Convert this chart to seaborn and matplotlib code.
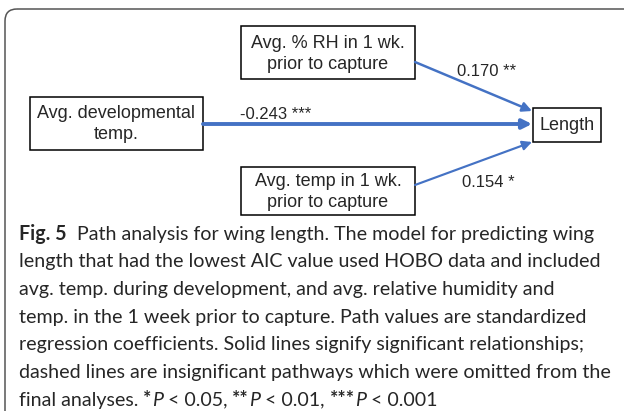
import numpy as np
import pandas as pd
import seaborn as sns
import matplotlib.pyplot as plt
from matplotlib.patches import FancyBboxPatch, FancyArrowPatch

# path model: predictors -> wing length, standardized coefficients
predictors = ["Avg. % RH in 1 wk.\nprior to capture",
              "Avg. developmental\ntemp.",
              "Avg. temp in 1 wk.\nprior to capture"]
outcome = "Length"
coefs = [0.170, -0.243, 0.154]
stars = ["**", "***", "*"]

caption = ["Path analysis for wing length. The model for predicting wing",
           "length that had the lowest AIC value used HOBO data and included",
           "avg. temp. during development, and avg. relative humidity and",
           "temp. in the 1 week prior to capture. Path values are standardized",
           "regression coefficients. Solid lines signify significant relationships;",
           "dashed lines are insignificant pathways which were omitted from the"]
pvals = ["0.05", "0.01", "0.001"]

sns.set_theme(style="white")
plt.rcParams['font.family'] = ['Liberation Sans', 'DejaVu Sans']

df = pd.DataFrame({"node": predictors, "coef": coefs, "stars": stars})
# box centres (pixel layout)
df["x"] = [328, 116, 328]
df["y"] = [53, 123, 191]
df["lab_x"] = [457, 240, 462]
df["lab_y"] = [72, 114, 182]
df["x0"] = [415, 203, 415]
df["y0"] = [62, 124, 185]
df["x1"] = [532, 532, 532]
df["y1"] = [111, 124, 142]

fig = plt.figure(figsize=(6.24, 4.11), dpi=100)
ax = fig.add_axes([0, 0, 1, 1])
ax.set_xlim(0, 624)
ax.set_ylim(411, 0)
ax.axis("off")

# outer frame
frame = FancyBboxPatch((5, 9), 640, 430, boxstyle="round,pad=0,rounding_size=12",
                       fc="none", ec="#555555", lw=1.1)
ax.add_patch(frame)

blue = "#4472C4"
box_w = {0: 174, 1: 173, 2: 174}
box_h = {0: 53, 1: 53, 2: 48}
for i, r in df.iterrows():
    ax.add_patch(plt.Rectangle((r.x - box_w[i] / 2, r.y - box_h[i] / 2), box_w[i], box_h[i],
                               fc="white", ec="black", lw=1.1))
    ax.text(r.x, r.y + 1, r.node, ha="center", va="center", fontsize=13, linespacing=1.3)
    lw = abs(r.coef) * 14 - 0.6
    ax.add_patch(FancyArrowPatch((r.x0, r.y0), (r.x1, r.y1), arrowstyle="-|>",
                                 mutation_scale=14, lw=lw, color=blue, shrinkA=0, shrinkB=0))
    ax.text(r.lab_x, r.lab_y, f"{r.coef:.3f} {r.stars}", ha="left", va="center", fontsize=12)

ax.add_patch(plt.Rectangle((533, 108), 68, 34, fc="white", ec="black", lw=1.1))
ax.text(567, 125, outcome, ha="center", va="center", fontsize=13)

# caption
cap_font = ['Lato', 'DejaVu Sans']
cap_size = 14.1
renderer = fig.canvas.get_renderer()


def runs(x, y, parts):
    for txt, kw in parts:
        t = ax.text(x, y, txt, ha="left", va="center", fontsize=cap_size, family=cap_font, **kw)
        bb = t.get_window_extent(renderer)
        x += bb.width
    return x


ys = [234 + 27.7 * k for k in range(7)]
runs(19, ys[0], [("Fig. 5", dict(weight="bold")), ("  " + caption[0], {})])
for k in range(1, 6):
    runs(19, ys[k], [(caption[k], {})])
last = [("final analyses. ", {})]
for n, p in enumerate(pvals):
    last += [("*" * (n + 1), dict(weight="bold")), ("P", dict(style="italic")),
             (" < " + p + (", " if n < 2 else ""), {})]
runs(19, ys[6], last)

fig.savefig("out.png", dpi=100)
